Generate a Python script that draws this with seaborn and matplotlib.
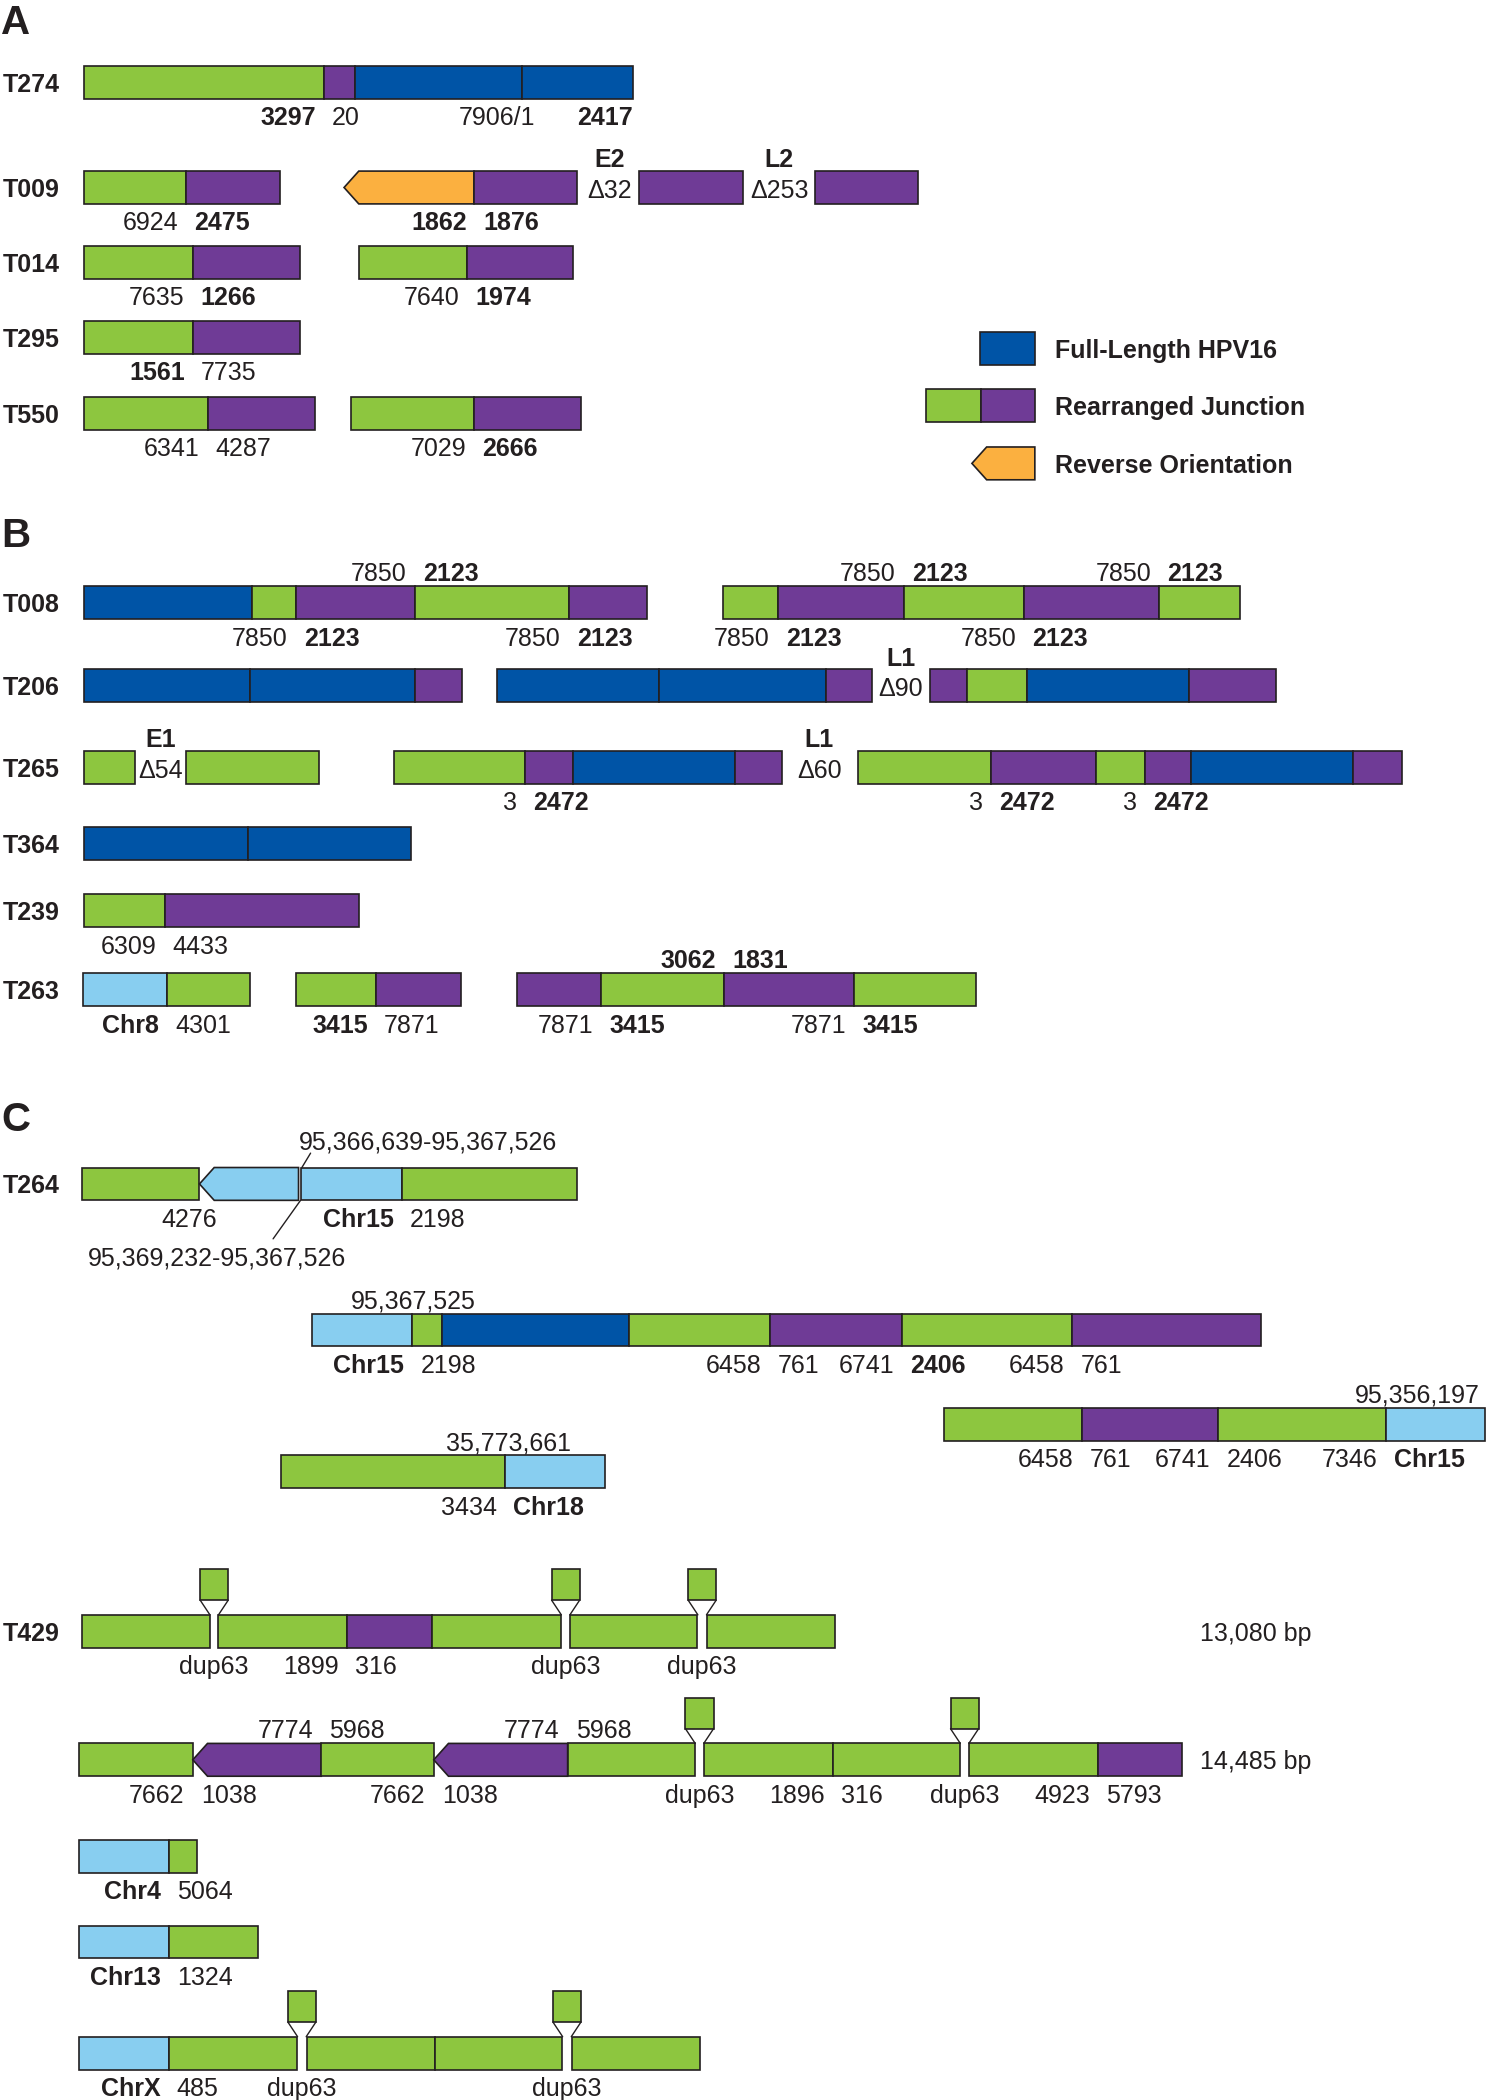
import matplotlib
matplotlib.use('Agg')
import matplotlib.pyplot as plt
import seaborn as sns

sns.set_style('white')
plt.rcParams['font.family'] = ['Liberation Sans', 'DejaVu Sans']

# segment kinds: g rearranged (green), p rearranged (purple), b full-length HPV16,
# o reverse orientation, c human chromosome; upper case = reversed (arrow tip left)
pal = sns.color_palette(['#8DC63F', '#6F3B96', '#0054A6', '#FBB040', '#88CEF0'])
kind_colors = dict(zip('gpboc', pal))
INK = '#231F20'

# ---- panel A ----
T274 = [(63, 242, 'g'), (242, 265, 'p'), (265, 390, 'b'), (390, 473, 'b')]
T274_below = [(242, '*3297', '20'), (406, '7906/1', ''), (479, '*2417', '')]

T009 = [(63, 139, 'g'), (139, 209, 'p'), (257, 354, 'O'), (354, 431, 'p'),
        (477, 555, 'p'), (609, 686, 'p')]
T009_below = [(139, '6924', '*2475'), (355, '*1862', '*1876')]
T009_del = [(455, 'E2', 'Δ32'), (582, 'L2', 'Δ253')]

T014 = [(63, 144, 'g'), (144, 224, 'p'), (268, 349, 'g'), (349, 428, 'p')]
T014_below = [(144, '7635', '*1266'), (349, '7640', '*1974')]

T295 = [(63, 144, 'g'), (144, 224, 'p')]
T295_below = [(144, '*1561', '7735')]

T550 = [(63, 155, 'g'), (155, 235, 'p'), (262, 354, 'g'), (354, 434, 'p')]
T550_below = [(155, '6341', '4287'), (354, '7029', '*2666')]

legend_names = ['Full-Length HPV16', 'Rearranged Junction', 'Reverse Orientation']
legend_marks = [[(732, 773, 'b')], [(692, 733, 'g'), (733, 773, 'p')], [(726, 773, 'O')]]

# ---- panel B ----
T008 = [(63, 188, 'b'), (188, 221, 'g'), (221, 310, 'p'), (310, 425, 'g'), (425, 483, 'p'),
        (540, 581, 'g'), (581, 675, 'p'), (675, 765, 'g'), (765, 866, 'p'), (866, 926, 'g')]
T008_above = [(310, '7850', '*2123'), (675, '7850', '*2123'), (866, '7850', '*2123')]
T008_below = [(221, '7850', '*2123'), (425, '7850', '*2123'), (581, '7850', '*2123'),
              (765, '7850', '*2123')]

T206 = [(63, 187, 'b'), (187, 310, 'b'), (310, 345, 'p'),
        (371, 492, 'b'), (492, 617, 'b'), (617, 651, 'p'),
        (695, 722, 'p'), (722, 767, 'g'), (767, 888, 'b'), (888, 953, 'p')]
T206_del = [(673, 'L1', 'Δ90')]

T265 = [(63, 101, 'g'), (139, 238, 'g'),
        (294, 392, 'g'), (392, 428, 'p'), (428, 549, 'b'), (549, 584, 'p'),
        (641, 740, 'g'), (740, 819, 'p'), (819, 855, 'g'), (855, 890, 'p'),
        (890, 1011, 'b'), (1011, 1047, 'p')]
T265_below = [(392, '3', '*2472'), (740, '3', '*2472'), (855, '3', '*2472')]
T265_del = [(120, 'E1', 'Δ54'), (612, 'L1', 'Δ60')]

T364 = [(63, 185, 'b'), (185, 307, 'b')]

T239 = [(63, 123, 'g'), (123, 268, 'p')]
T239_below = [(123, '6309', '4433')]

T263 = [(62, 125, 'c'), (125, 187, 'g'), (221, 281, 'g'), (281, 344, 'p'),
        (386, 449, 'p'), (449, 541, 'g'), (541, 638, 'p'), (638, 729, 'g')]
T263_above = [(541, '*3062', '*1831')]
T263_below = [(125, '*Chr8', '4301'), (281, '*3415', '7871'), (449, '7871', '*3415'),
              (638, '7871', '*3415')]

# ---- panel C ----
T264 = [(61, 149, 'g'), (149, 223, 'C'), (225, 300, 'c'), (300, 431, 'g')]
T264_below = [(300, '*Chr15', '2198')]
T264_center = [(141, 25, '4276'), (320, -33, '95,366,639-95,367,526'),
               (162, 54, '95,369,232-95,367,526')]

C2 = [(233, 308, 'c'), (308, 330, 'g'), (330, 470, 'b'), (470, 575, 'g'),
      (575, 674, 'p'), (674, 801, 'g'), (801, 942, 'p')]
C2_below = [(308, '*Chr15', '2198'), (575, '6458', '761'), (674, '6741', '*2406'),
            (801, '6458', '761')]
C2_center = [(309, -23, '95,367,525')]

C3 = [(705, 808, 'g'), (808, 910, 'p'), (910, 1035, 'g'), (1035, 1109, 'c')]
C3_above = [(1111, '95,356,197', '')]
C3_below = [(808, '6458', '761'), (910, '6741', '2406'), (1035, '7346', '*Chr15')]

C4 = [(210, 377, 'g'), (377, 452, 'c')]
C4_center = [(380, -23, '35,773,661')]
C4_below = [(377, '3434', '*Chr18')]

T429 = [(61, 157, 'g'), (163, 259, 'g'), (259, 323, 'p'), (323, 419, 'g'),
        (426, 521, 'g'), (528, 624, 'g')]
T429_dups = [160, 422.5, 524.5]
T429_below = [(259, '1899', '316')]

T429b = [(59, 144, 'g'), (144, 240, 'P'), (240, 324, 'g'), (324, 424, 'P'), (424, 519, 'g'),
         (526, 622, 'g'), (622, 717, 'g'), (724, 820, 'g'), (820, 883, 'p')]
T429b_dups = [522.5, 720.5]
T429b_above = [(240, '7774', '5968'), (424, '7774', '5968')]
T429b_below = [(144, '7662', '1038'), (324, '7662', '1038'), (622, '1896', '316'),
               (820, '4923', '5793')]

Chr4 = [(59, 126, 'c'), (126, 147, 'g')]
Chr4_below = [(126, '*Chr4', '5064')]
Chr13 = [(59, 126, 'c'), (126, 193, 'g')]
Chr13_below = [(126, '*Chr13', '1324')]
ChrX = [(59, 126, 'c'), (126, 222, 'g'), (229, 325, 'g'), (325, 420, 'g'), (427, 523, 'g')]
ChrX_dups = [225.5, 423.5]
ChrX_below = [(126, '*ChrX', '485')]

# ---- layout (drawing units, y downwards) ----
BAR_H = 24.5
TIP = 11
GAP = 6
TEXT_DY = 1.8   # matplotlib centres on the full line box, nudge digits down

fig = plt.figure(figsize=(14.86, 21.0), dpi=100)
ax = fig.add_axes([0, 0, 1, 1])
ax.set_xlim(0, 1110)
ax.set_ylim(1568, 0)
ax.axis('off')


def put(x, y, s, ha, size=18):
    bold = s.startswith('*')
    ax.text(x, y + TEXT_DY * size / 18, s.lstrip('*'), ha=ha, va='center',
            fontsize=size, color=INK, fontweight='bold' if bold else 'normal')


def draw_segments(y, segs):
    for x0, x1, k in segs:
        col = kind_colors[k.lower()]
        if k.isupper():
            xs = [x0, x0 + TIP, x1, x1, x0 + TIP]
            ys = [y, y - BAR_H / 2, y - BAR_H / 2, y + BAR_H / 2, y + BAR_H / 2]
            ax.fill(xs, ys, facecolor=col, edgecolor=INK, linewidth=1.2)
        else:
            ax.barh(y, x1 - x0, left=x0, height=BAR_H, color=col,
                    edgecolor=INK, linewidth=1.2)


def draw_pairs(y, pairs):
    for x, left, right in pairs:
        if left:
            put(x - GAP, y, left, 'right')
        if right:
            put(x + GAP, y, right, 'left')


def draw_dups(y, xs, below=True):
    top = y - BAR_H / 2
    for cx in xs:
        ax.barh(top - 11 - 11.5, 21, left=cx - 10.5, height=23,
                color=kind_colors['g'], edgecolor=INK, linewidth=1.2)
        ax.plot([cx - 10.5, cx - 3.2], [top - 11, top], color=INK, lw=1.0)
        ax.plot([cx + 10.5, cx + 3.2], [top - 11, top], color=INK, lw=1.0)
        if below:
            put(cx, y + 25, 'dup63', 'center')


rows = [
    ('T274', 61.5, T274, [], T274_below, []),
    ('T009', 140, T009, [], T009_below, T009_del),
    ('T014', 196, T014, [], T014_below, []),
    ('T295', 252, T295, [], T295_below, []),
    ('T550', 308.5, T550, [], T550_below, []),
    ('T008', 450, T008, T008_above, T008_below, []),
    ('T206', 512, T206, [], [], T206_del),
    ('T265', 573, T265, [], T265_below, T265_del),
    ('T364', 630, T364, [], [], []),
    ('T239', 680, T239, [], T239_below, []),
    ('T263', 739, T263, T263_above, T263_below, []),
    ('T264', 884, T264, [], T264_below, []),
    ('', 993, C2, [], C2_below, []),
    ('', 1063.5, C3, C3_above, C3_below, []),
    ('', 1099, C4, [], C4_below, []),
    ('T429', 1218, T429, [], T429_below, []),
    ('', 1314, T429b, T429b_above, T429b_below, []),
    ('', 1386, Chr4, [], Chr4_below, []),
    ('', 1450, Chr13, [], Chr13_below, []),
    ('', 1533, ChrX, [], ChrX_below, []),
]

for name, y, segs, above, below, dels in rows:
    if name:
        put(2, y, '*' + name, 'left')
    draw_segments(y, segs)
    draw_pairs(y - 23, above)
    draw_pairs(y + 25, below)
    for x, gene, delta in dels:
        put(x, y - 22, '*' + gene, 'center')
        put(x, y + 1, delta, 'center')

# centred annotations
for y, items in [(884, T264_center), (993, C2_center), (1099, C4_center)]:
    for x, dy, s in items:
        put(x, y + dy, s, 'center')

# breakpoint pointers on T264
ax.plot([225.5, 232], [884 - BAR_H / 2, 861], color=INK, lw=1.0)
ax.plot([224.5, 204], [884 + BAR_H / 2, 925], color=INK, lw=1.0)

# duplications
draw_dups(1218, T429_dups)
draw_dups(1314, T429b_dups)
draw_dups(1533, ChrX_dups)

put(896, 1218, '13,080 bp', 'left')
put(896, 1314, '14,485 bp', 'left')

# legend
for y, name, marks in zip([260.5, 303, 346], legend_names, legend_marks):
    draw_segments(y, marks)
    put(788, y, '*' + name, 'left')

# panel letters
for y, letter in [(14, 'A'), (397, 'B'), (833, 'C')]:
    put(1, y, '*' + letter, 'left', size=29)

fig.savefig('out.png', dpi=100)
